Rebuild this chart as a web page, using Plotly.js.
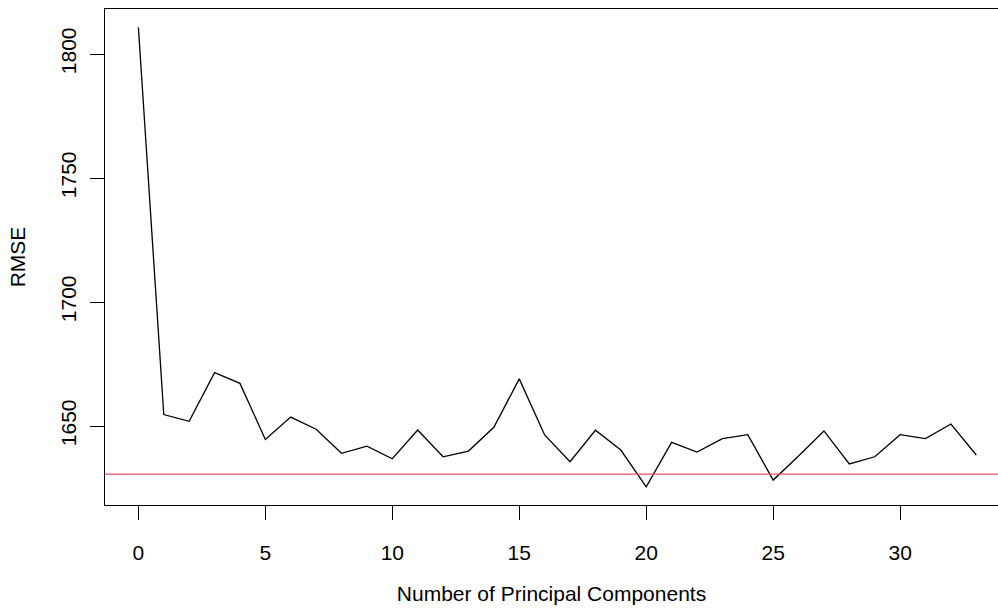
<!DOCTYPE html>
<html>
<head>
<meta charset="utf-8">
<script src="https://cdn.plot.ly/plotly-3.0.1.min.js"></script>
<style>html,body{margin:0;padding:0;background:#fff;}#chart{width:998px;height:609px;}</style>
</head>
<body>
<div id="chart"></div>
<script>
const components = [0,1,2,3,4,5,6,7,8,9,10,11,12,13,14,15,16,17,18,19,20,21,22,23,24,25,26,27,28,29,30,31,32,33];
const rmse = [1810.8,1654.6,1651.9,1671.5,1667.2,1644.6,1653.6,1648.7,1639.0,1641.9,1636.8,1648.4,1637.6,1639.9,1649.5,1669.0,1646.4,1635.6,1648.3,1640.3,1625.5,1643.4,1639.5,1644.9,1646.5,1628.2,1637.9,1648.0,1634.7,1637.6,1646.5,1644.9,1650.8,1638.3];
const refLevel = 1630.6;
const xTicks = [0,5,10,15,20,25,30];
const yTicks = [1650,1700,1750,1800];

const font = {family: 'Liberation Sans, Arial, sans-serif', size: 21, color: '#000'};

const traces = [
  {x: components, y: rmse, type: 'scatter', mode: 'lines',
   line: {color: '#000000', width: 1.3}, hoverinfo: 'x+y'},
  {x: [-10, 50], y: [refLevel, refLevel], type: 'scatter', mode: 'lines',
   line: {color: '#DF536B', width: 1.1}, hoverinfo: 'skip'}
];

const layout = {
  width: 998, height: 609,
  margin: {l: 105, r: 0, t: 9, b: 104},
  paper_bgcolor: '#fff', plot_bgcolor: '#fff',
  showlegend: false,
  font: font,
  xaxis: {
    range: [-1.315, 33.855], tickvals: xTicks, ticktext: xTicks.map(String),
    showgrid: false, zeroline: false,
    showline: true, mirror: true, linecolor: '#000', linewidth: 1,
    ticks: 'outside', ticklen: 14, tickwidth: 1, tickcolor: '#000',
    ticklabelstandoff: 15,
    tickfont: font,
    title: {text: 'Number of Principal Components', font: font, standoff: 23}
  },
  yaxis: {
    range: [1618.15, 1818.15], tickvals: yTicks, ticktext: yTicks.map(String),
    showgrid: false, zeroline: false,
    showline: true, mirror: false, linecolor: '#000', linewidth: 1,
    ticks: 'outside', ticklen: 14, tickwidth: 1, tickcolor: '#000',
    tickangle: -90, ticklabelstandoff: 6,
    tickfont: font,
    title: {text: 'RMSE', font: font, standoff: 25}
  }
};

Plotly.newPlot('chart', traces, layout, {displayModeBar: false, staticPlot: true});
</script>
</body>
</html>
